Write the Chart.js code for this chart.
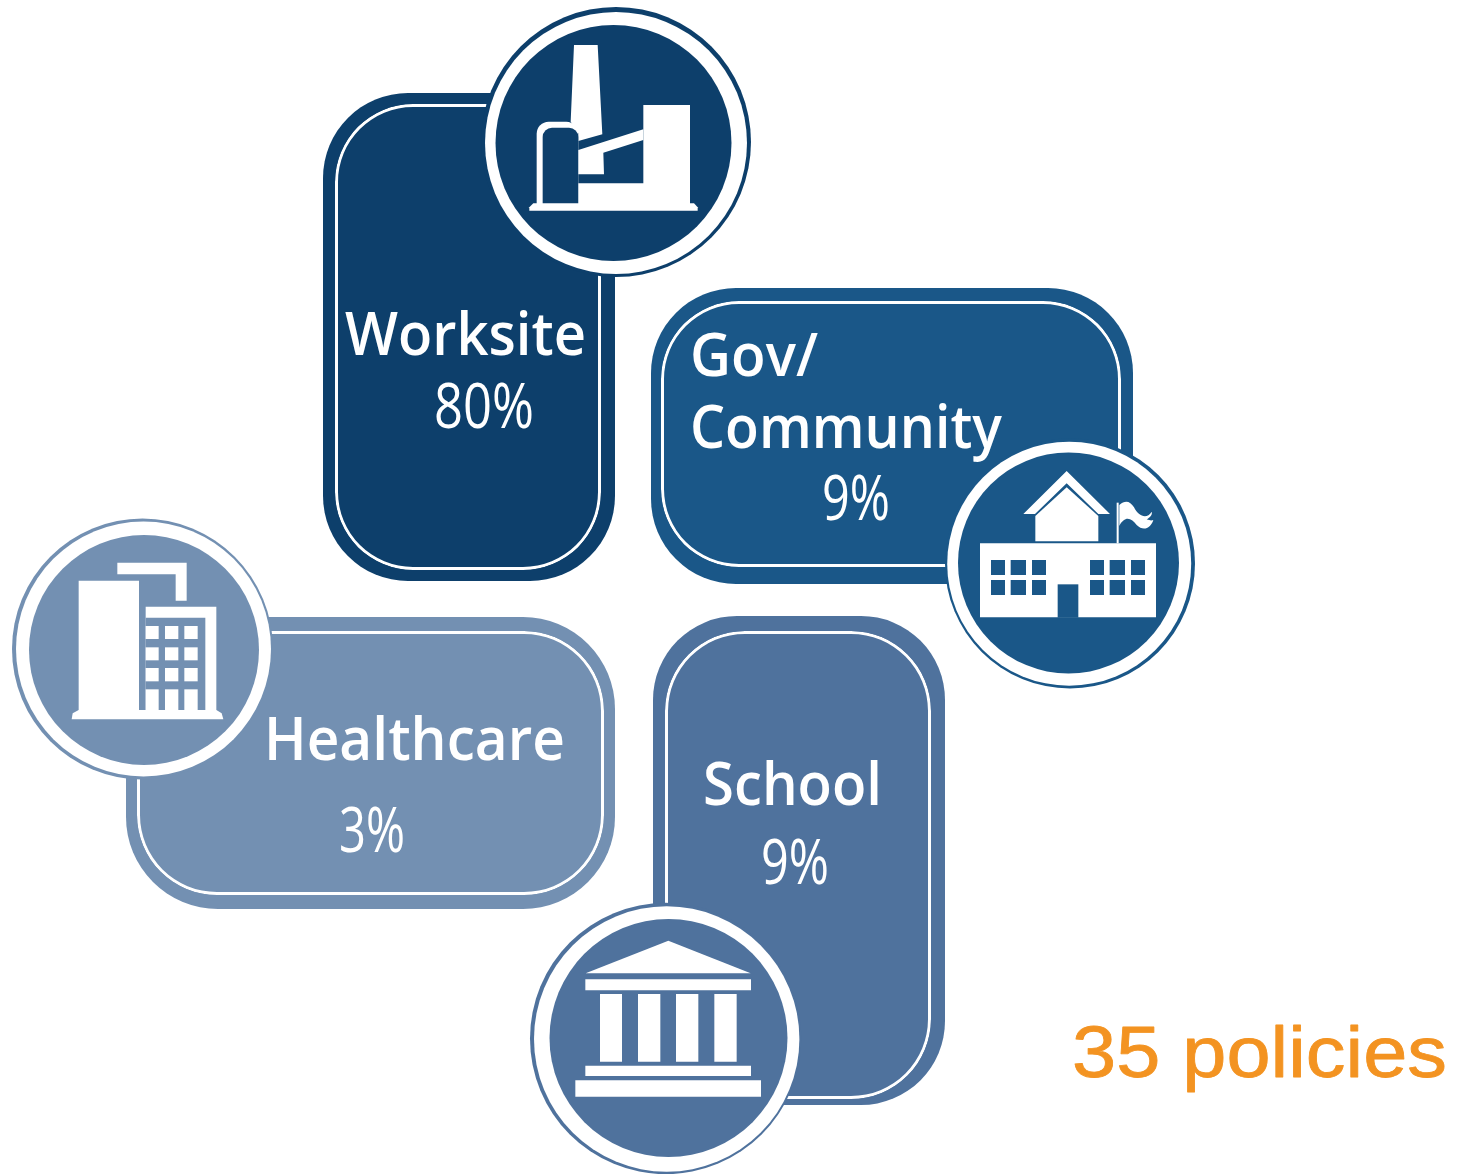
<!DOCTYPE html>
<html><head><meta charset="utf-8">
<style>html,body{margin:0;padding:0;background:#fff}canvas{display:block}</style>
<script src="https://cdn.jsdelivr.net/npm/chart.js@4/dist/chart.umd.min.js"></script>
</head><body><canvas id="c" width="1465" height="1174" style="width:1465px;height:1174px"></canvas>
<script>
// ---- values ----
const categories = ['Worksite', 'Gov/\nCommunity', 'School', 'Healthcare'];
const shares = [80, 9, 9, 3];
const policyCount = 35;
const policyUnit = 'policies';

// ---- styling / layout (page units) ----
const colors = ['#0d3f6b', '#1a5788', '#4f729d', '#7390b2'];
const accent = '#f39321';
const panelBoxes = [[323,615,93,581,85],[651,1133,288,584,85],[653,945,616,1105,84],[126,615,617,909,92]];
const lineBoxes  = [[335,601,104,570,78],[661,1121,301,567,78],[665,931,631,1099,80],[137,604,631,895,80]];
const ringDiscs  = [[616,142,135],[1070,563.5,125],[665.7,1038.5,135.7],[142.5,649,130.5]];
const whiteDiscs = [[616,143,131],[1069.2,563.7,122],[666.7,1039,132.7],[143.5,649,127.5]];
const iconDiscs  = [[613.5,143,118],[1068.5,563,110.5],[668.5,1038,119],[144,650,115]];
const labelFont = '"Open Sans", sans-serif';
const labelPlacement = [
  [{x:345,y:355,w:241}],
  [{x:690,y:376,w:128},{x:690,y:448,w:312}],
  [{x:703,y:805,w:179}],
  [{x:264,y:760,w:301}]
];
const sharePlacement = [{x:434,y:428,w:100},{x:822,y:520,w:68},{x:761,y:884,w:68},{x:339,y:852,w:66}];
const policyPlacement = {x:1072,y:1077,w:375};

// ---- datasets, all on hidden page-unit scales ----
const datasets = [];
function bar(b, fill, line, bw) {
  datasets.push({ type:'bar', stack:'p', clip:false,
    data:[{x:(b[0]+b[1])/2, y:[b[2],b[3]]}],
    barThickness:b[1]-b[0], backgroundColor:fill, borderColor:line, borderWidth:bw,
    borderRadius:b[4], borderSkipped:false, inflateAmount:0 });
}
function disc(d, fill) {
  datasets.push({ type:'bubble', clip:false, data:[{x:d[0],y:d[1],r:d[2]}],
    backgroundColor:fill, borderWidth:0, hoverBorderWidth:0 });
}
categories.forEach((_, i) => bar(panelBoxes[i], colors[i], colors[i], 0));
categories.forEach((_, i) => bar(lineBoxes[i], 'rgba(0,0,0,0)', '#ffffff', 3));
categories.forEach((_, i) => {
  disc(ringDiscs[i], colors[i]);
  disc(whiteDiscs[i], '#ffffff');
  disc(iconDiscs[i], colors[i]);
});
datasets.forEach((d, i) => d.order = datasets.length - i);

// ---- icons: outlines measured in crop units (3 units per page unit) ----
function iconPainter(ctx, xs, ys, ox, oy) {
  const X = v => xs.getPixelForValue(ox + v/3), Y = v => ys.getPixelForValue(oy + v/3);
  return {
    poly(col, pts) { ctx.fillStyle = col; ctx.beginPath();
      pts.forEach((p, i) => i ? ctx.lineTo(X(p[0]), Y(p[1])) : ctx.moveTo(X(p[0]), Y(p[1])));
      ctx.closePath(); ctx.fill(); },
    rect(col, x0, y0, x1, y1) { this.poly(col, [[x0,y0],[x1,y0],[x1,y1],[x0,y1]]); },
    dome(col, x0, y0, x1, y1, r) { ctx.fillStyle = col; ctx.beginPath();
      ctx.roundRect(X(x0), Y(y0), X(x1)-X(x0), Y(y1)-Y(y0), [r/3, r/3, 0, 0]); ctx.fill(); },
    flag(col) { ctx.fillStyle = col; ctx.beginPath();
      ctx.moveTo(X(568),Y(225));
      ctx.bezierCurveTo(X(585),Y(210),X(600),Y(212),X(612),Y(232));
      ctx.bezierCurveTo(X(625),Y(258),X(650),Y(270),X(665),Y(245));
      ctx.bezierCurveTo(X(668),Y(255),X(660),Y(262),X(650),Y(268));
      ctx.bezierCurveTo(X(660),Y(272),X(665),Y(272),X(670),Y(270));
      ctx.bezierCurveTo(X(662),Y(295),X(640),Y(305),X(620),Y(285));
      ctx.bezierCurveTo(X(605),Y(265),X(585),Y(255),X(568),Y(288));
      ctx.closePath(); ctx.fill(); }
  };
}
function drawIcons(ctx, xs, ys) {
  const W = '#ffffff';
  // factory
  let c = colors[0], p = iconPainter(ctx, xs, ys, 320, 0);
  p.poly(W, [[762,135],[833,135],[847,403],[775,423],[775,400],[752,365]]);
  p.dome(W, 650,365,775,612,36);
  p.dome(c, 668,383,775,612,28);
  p.poly(W, [[775,450],[970,388],[970,420],[850,458],[852,523],[775,523]]);
  p.poly(W, [[970,315],[1110,315],[1110,612],[775,612],[775,550],[970,550]]);
  p.poly(W, [[640,610],[1122,610],[1133,622],[1133,632],[628,632],[628,622]]);
  // school building
  c = colors[1]; p = iconPainter(ctx, xs, ys, 930, 430);
  p.poly(W, [[410,123],[540,252],[505,252],[410,160],[315,252],[280,252]]);
  p.poly(W, [[410,172],[505,258],[505,334],[316,334],[316,258]]);
  p.rect(W, 150,340,678,562);
  p.rect(c, 383,463,445,563);
  [[183,225],[242,288],[306,348],[480,522],[539,585],[603,645]].forEach(k => {
    p.rect(c, k[0],390,k[1],435); p.rect(c, k[0],450,k[1],495);
  });
  p.rect(W, 560,218,566,340);
  p.flag(W);
  // hospital
  c = colors[3]; p = iconPainter(ctx, xs, ys, 0, 510);
  p.poly(W, [[352,158],[560,158],[560,272],[527,272],[527,193],[352,193]]);
  p.rect(W, 236,212,417,602);
  p.rect(W, 437,290,649,602);
  p.rect(c, 437,323,616,602);
  [[437,476],[495,535],[553,593]].forEach(k => {
    [[348,387],[412,451],[474,514],[538,602]].forEach(r => p.rect(W, k[0],r[0],k[1],r[1]));
  });
  p.poly(W, [[236,600],[649,600],[665,610],[670,628],[215,628],[218,610]]);
  // civic building
  p = iconPainter(ctx, xs, ys, 520, 895);
  p.poly(W, [[445,137],[692,235],[197,235]]);
  p.rect(W, 196,253,693,286);
  [[240,306],[354,421],[468,535],[583,650]].forEach(k => p.rect(W, k[0],297,k[1],500));
  p.rect(W, 196,512,693,543);
  p.rect(W, 166,556,723,605);
}

function fitText(ctx, xs, ys, str, spot, font, col, heavy) {
  ctx.save();
  ctx.font = font; ctx.fillStyle = col; ctx.textAlign = 'left'; ctx.textBaseline = 'alphabetic';
  const m = ctx.measureText(str).width;
  ctx.translate(xs.getPixelForValue(spot.x), ys.getPixelForValue(spot.y));
  ctx.scale(spot.w / m, 1);
  if (heavy) { ctx.strokeStyle = col; ctx.lineWidth = heavy; ctx.lineJoin = 'round'; ctx.strokeText(str, 0, 0); }
  ctx.fillText(str, 0, 0);
  ctx.restore();
}

const overlay = {
  id:'overlay',
  afterDatasetsDraw(chart) {
    const ctx = chart.ctx, xs = chart.scales.x, ys = chart.scales.y;
    drawIcons(ctx, xs, ys);
    categories.forEach((name, i) => {
      name.split('\n').forEach((ln, j) =>
        fitText(ctx, xs, ys, ln, labelPlacement[i][j], '600 60px ' + labelFont, '#ffffff'));
      fitText(ctx, xs, ys, shares[i] + '%', sharePlacement[i], '400 62px ' + labelFont, '#ffffff');
    });
    fitText(ctx, xs, ys, policyCount + ' ' + policyUnit, policyPlacement,
      '400 73px "Liberation Sans", sans-serif', accent, 0.8);
  }
};

new Chart(document.getElementById('c'), {
  type:'bar',
  data:{ datasets },
  plugins:[overlay],
  options:{
    responsive:false, animation:false, events:[],
    layout:{padding:0, autoPadding:false},
    plugins:{legend:{display:false},tooltip:{enabled:false},title:{display:false}},
    scales:{
      x:{type:'linear',min:0,max:1465,display:false,offset:false,stacked:true,grid:{display:false}},
      y:{type:'linear',min:0,max:1174,reverse:true,display:false,stacked:false,grid:{display:false}}
    }
  }
});
</script></body></html>
